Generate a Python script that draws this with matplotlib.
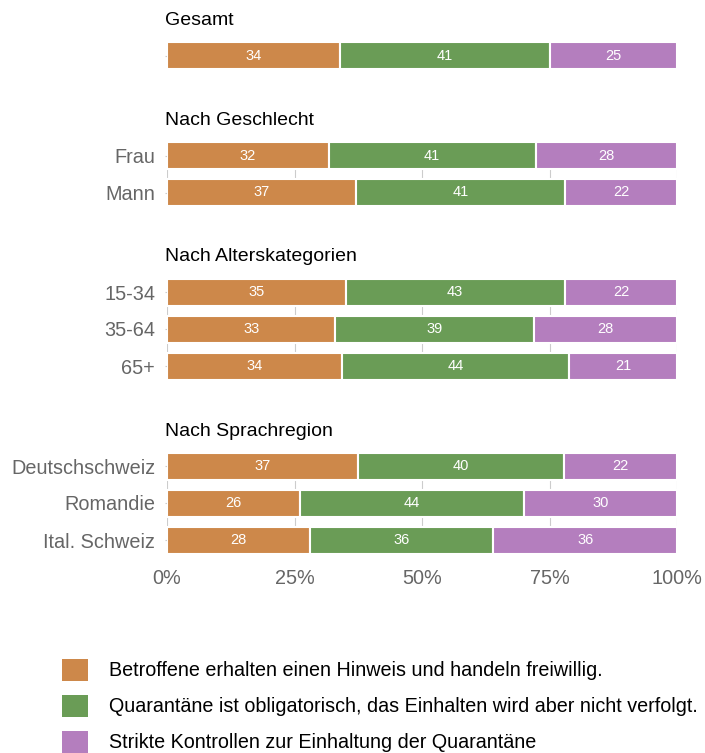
import matplotlib
matplotlib.use("Agg")
import matplotlib.pyplot as plt
from matplotlib.patches import Patch

plt.rcParams['font.family'] = ['Liberation Sans', 'DejaVu Sans']

# Daten (Prozent)
groups = ["Gesamt", "Nach Geschlecht", "Nach Alterskategorien", "Nach Sprachregion"]
rows = [
    [""],
    ["Frau", "Mann"],
    ["15-34", "35-64", "65+"],
    ["Deutschschweiz", "Romandie", "Ital. Schweiz"],
]
freiwillig = [[34], [32, 37], [35, 33, 34], [37, 26, 28]]
obligatorisch = [[41], [41, 41], [43, 39, 44], [40, 44, 36]]
strikt = [[25], [28, 22], [22, 28, 21], [22, 30, 36]]

labels = [
    "Betroffene erhalten einen Hinweis und handeln freiwillig.",
    "Quarantäne ist obligatorisch, das Einhalten wird aber nicht verfolgt.",
    "Strikte Kontrollen zur Einhaltung der Quarantäne",
]
colors = ["#CD884A", "#6A9C56", "#B47EBE"]

W, H = 705, 753
fig = plt.figure(figsize=(W / 100, H / 100), dpi=100)

row_h = 37
bar_h = 27
first_center = [55.5, 155.5, 292, 466]
x0, x1 = 167, 677
half = bar_h / row_h / 2

for g in range(len(groups)):
    n = len(rows[g])
    top = first_center[g] - bar_h / 2
    h_px = (n - 1) * row_h + bar_h
    ax = fig.add_axes([x0 / W, 1 - (top + h_px) / H, (x1 - x0) / W, h_px / H])
    ys = list(range(n))
    left = [0.0] * n
    for k, series in enumerate([freiwillig, obligatorisch, strikt]):
        vals = series[g]
        for i in range(n):
            total = freiwillig[g][i] + obligatorisch[g][i] + strikt[g][i]
            w = vals[i] / total * 100
            ax.barh(ys[i], w, left=left[i], height=2 * half, color=colors[k],
                    edgecolor="white", linewidth=1.5, zorder=3)
            ax.text(left[i] + w / 2, ys[i], str(vals[i]), ha="center", va="center",
                    color="white", fontsize=10.5, zorder=4)
            left[i] += w
    ax.set_xlim(0, 100)
    ax.set_ylim(n - 1 + half, -half)
    ax.set_yticks(ys)
    ax.set_yticklabels(rows[g], fontsize=14.3, color="#666666")
    ax.set_xticks([0, 25, 50, 75, 100])
    ax.grid(axis="x", color="#cccccc", linewidth=0.8, zorder=0)
    ax.tick_params(axis="y", length=1.5, color="#cccccc", pad=7)
    for s in ax.spines.values():
        s.set_visible(False)
    if g == len(groups) - 1:
        ax.set_xticklabels(["0%", "25%", "50%", "75%", "100%"], fontsize=14.3, color="#666666")
        ax.tick_params(axis="x", length=0, pad=11)
    else:
        ax.tick_params(axis="x", length=0, labelbottom=False)
    fig.text(165 / W, 1 - (first_center[g] - 35) / H, groups[g], fontsize=14,
             ha="left", va="center", color="black")

handles = [Patch(facecolor=c, edgecolor="none") for c in colors]
fig.legend(handles, labels, loc="upper left", bbox_to_anchor=(44 / W, 1 - 641 / H),
           frameon=False, fontsize=14.2, handlelength=1.35, handleheight=1.35,
           labelspacing=0.7, handletextpad=1.05, borderaxespad=0.5)

fig.savefig("out.png", dpi=100)
